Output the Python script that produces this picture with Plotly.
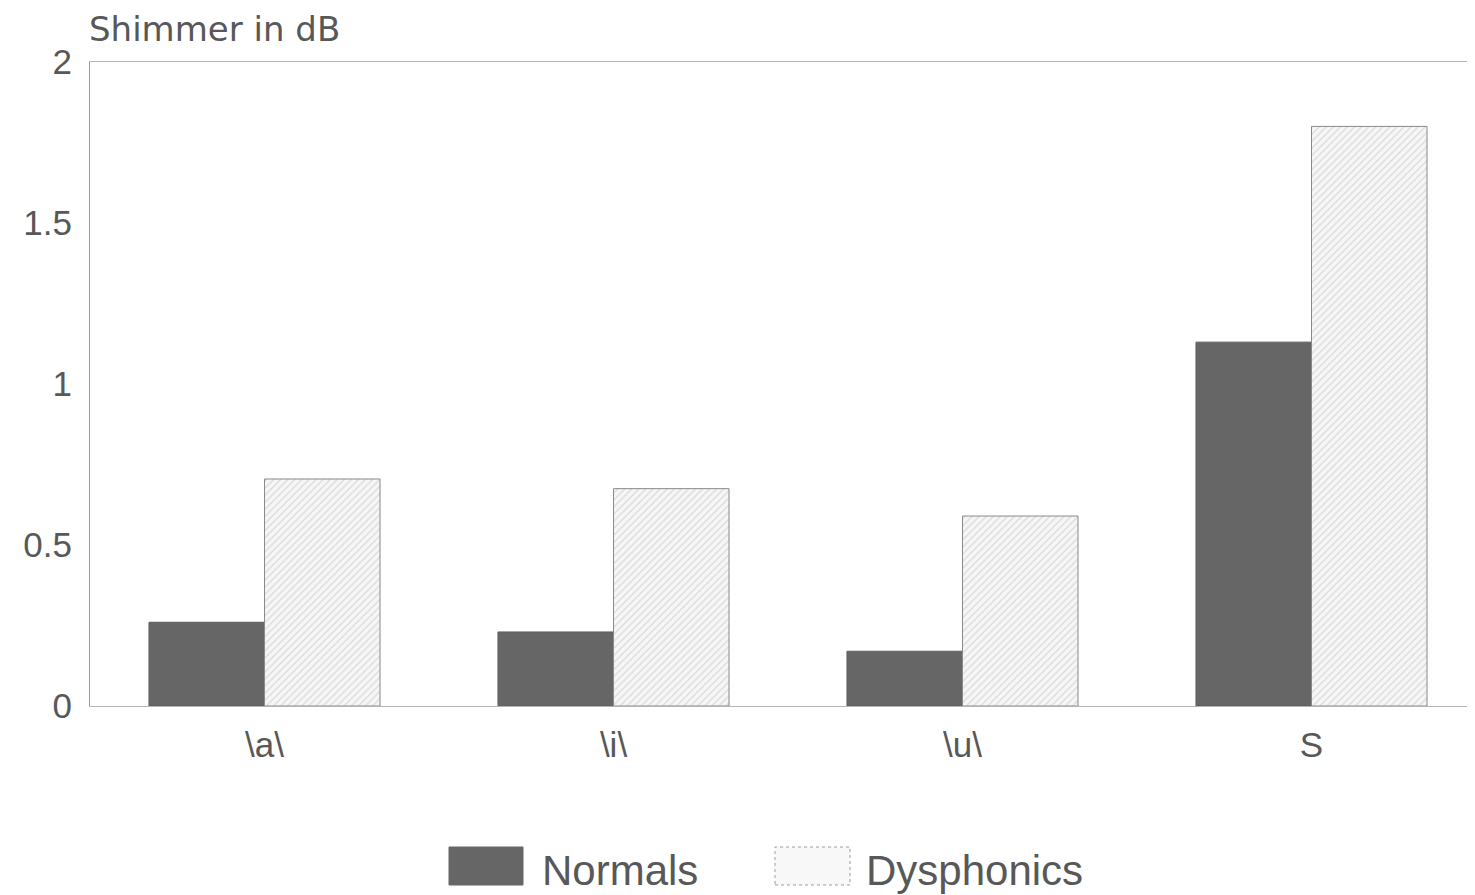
import plotly.graph_objects as go

categories = ["\\a\\", "\\i\\", "\\u\\", "S"]
normals = [0.26, 0.23, 0.17, 1.13]
dysphonics = [0.705, 0.675, 0.59, 1.80]
y_ticks = [0, 0.5, 1, 1.5, 2]
y_ticktext = ["0", "0.5", "1", "1.5", "2"]

FONT = "Liberation Sans, Arial, sans-serif"
TXT = "#585858"

# plot area in screen pixels (page has an 8px body offset)
X0, X1, Y0, Y1 = 90, 90 + 1393, 706, 62


def px(x):
    return (x - X0) / (X1 - X0)


def py(y):
    return (Y0 - y) / (Y0 - Y1)


fig = go.Figure()
fig.add_trace(go.Bar(
    name="Normals", x=categories, y=normals,
    marker=dict(color="#666666", line=dict(color="#5e5e5e", width=1)),
))
fig.add_trace(go.Bar(
    name="Dysphonics", x=categories, y=dysphonics,
    marker=dict(
        color="#f4f4f4",
        line=dict(color="#8a8a8a", width=1),
        pattern=dict(shape="/", fgcolor="#bbbbbb", bgcolor="#f6f6f6", size=5, solidity=0.25),
    ),
))

fig.update_layout(
    width=1475, height=895,
    margin=dict(l=82, r=0, t=54, b=197),
    paper_bgcolor="white", plot_bgcolor="white",
    barmode="group", bargap=0.338, bargroupgap=0,
    showlegend=False,
    font=dict(family=FONT, color=TXT),
    xaxis=dict(
        range=[-0.5, -0.5 + 1393 / 349], showgrid=False, ticks="",
        showline=True, linecolor="#b4b4b4", linewidth=1, mirror=True,
        tickfont=dict(size=35, color=TXT), ticklabelstandoff=8,
    ),
    yaxis=dict(
        range=[0, 2], tickvals=y_ticks, ticktext=y_ticktext,
        showgrid=False, zeroline=False, ticks="",
        showline=True, linecolor="#9a9a9a", linewidth=1,
        tickfont=dict(size=35, color=TXT), ticklabelstandoff=10,
    ),
)

fig.add_annotation(
    text="Shimmer in dB", xref="paper", yref="paper", x=px(88), y=py(29),
    xanchor="left", yanchor="middle", showarrow=False, borderpad=0,
    font=dict(size=34, color=TXT, family="DejaVu Sans, sans-serif"),
)

# custom legend below the plot
fig.add_shape(type="rect", xref="paper", yref="paper",
              x0=px(449), x1=px(523), y0=py(885), y1=py(847),
              fillcolor="#666666", line=dict(color="#666666", width=1))
fig.add_annotation(text="Normals", xref="paper", yref="paper",
                   x=px(540), y=py(871),
                   xanchor="left", yanchor="middle", showarrow=False,
                   font=dict(size=42, color=TXT, family=FONT))
fig.add_shape(type="rect", xref="paper", yref="paper",
              x0=px(775), x1=px(850), y0=py(885), y1=py(847),
              fillcolor="#f8f8f8", line=dict(color="#9a9a9a", width=1, dash="dot"))
fig.add_annotation(text="Dysphonics", xref="paper", yref="paper",
                   x=px(864), y=py(871),
                   xanchor="left", yanchor="middle", showarrow=False,
                   font=dict(size=42, color=TXT, family=FONT))

fig.write_html("out.html")
